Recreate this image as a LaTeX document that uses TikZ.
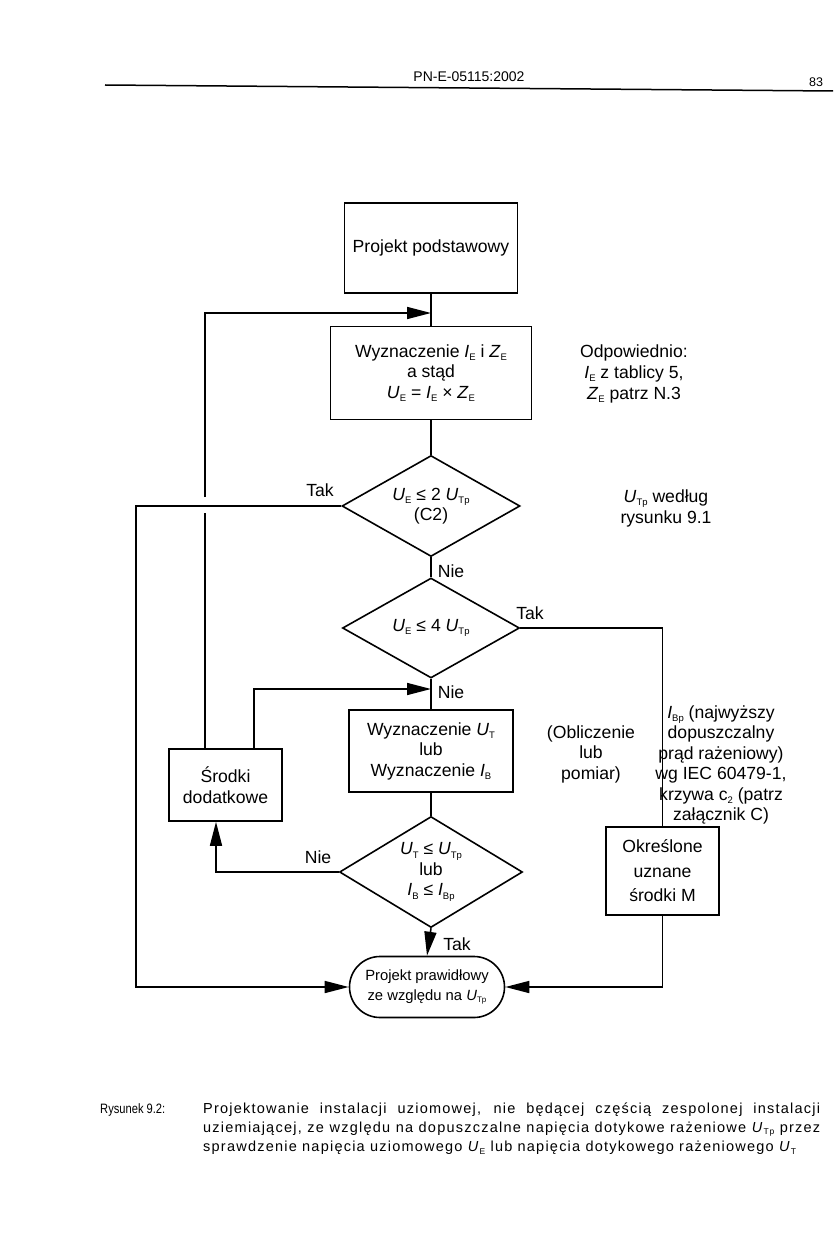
\documentclass[tikz,border=0pt]{standalone}
\usepackage{fontspec}
\setmainfont{Liberation Sans}
\newfontfamily\capfont[LetterSpace=8.5]{Liberation Sans}
\usetikzlibrary{shapes.geometric,shapes.misc,arrows.meta}
\newcommand\sbs[1]{\raisebox{-0.35ex}{\fontsize{9.5}{9.5}\selectfont #1}}
\newcommand\sbsm[1]{\raisebox{-0.35ex}{\fontsize{8}{8}\selectfont #1}}
\newcommand\sbsc[1]{\raisebox{-0.35ex}{\fontsize{8.5}{8.5}\selectfont #1}}
\newcommand\vU{\textit{U}}
\newcommand\vI{\textit{I}}
\newcommand\vZ{\textit{Z}}
\newcommand\fs{\fontsize{17.6}{20.5}\selectfont}
\begin{document}
\begin{tikzpicture}[x=1pt,y=-1pt,
  box/.style={draw,line width=1.6pt,inner sep=0pt,align=center,font=\fs},
  dia/.style={draw,diamond,line width=1.6pt,inner sep=0pt,align=center,font=\fs},
  lbl/.style={inner sep=0pt,align=center,font=\fs},
  con/.style={line width=1.6pt},
  arr/.style={line width=1.6pt,-{Triangle[length=24pt,width=12pt]}},
  captxt/.style={anchor=west,inner sep=0pt,font=\capfont\fontsize{14.5}{16}\selectfont},
]
\fill[white] (0,0) rectangle (835,1249);
\path[use as bounding box] (0,0) rectangle (835,1249);

% header
\node[inner sep=0pt,font=\fontsize{14}{15}\selectfont] (hdr) at (469,77) {PN-E-05115:2002};
\node[inner sep=0pt,font=\fontsize{12.5}{13}\selectfont] (pg) at (816,82) {83};
\draw[line width=1.5pt] (105,85) -- (833,91);

% main nodes
\node[box,minimum width=173pt,minimum height=90pt] (b1) at (431,248) {Projekt podstawowy};
\node[box,minimum width=201pt,minimum height=93pt] (b2) at (431,373) {Wyznaczenie \vI\sbs{E} i \vZ\sbs{E}\\ a stąd\\ \vU\sbs{E} = \vI\sbs{E} × \vZ\sbs{E}};
\node[dia,minimum width=178pt,minimum height=101pt,aspect=1.76] (d1) at (431,506) {\vU\sbs{E} ≤ 2 \vU\sbs{Tp}\\ (C2)};
\node[dia,minimum width=177pt,minimum height=100pt,aspect=1.77] (d2) at (431,628) {\vU\sbs{E} ≤ 4 \vU\sbs{Tp}};
\node[box,minimum width=164pt,minimum height=82pt] (b3) at (431,751) {Wyznaczenie \vU\sbs{T}\\ lub\\ Wyznaczenie \vI\sbs{B}};
\node[dia,minimum width=183pt,minimum height=111pt,aspect=1.65] (d3) at (431,872) {\vU\sbs{T} ≤ \vU\sbs{Tp}\\ lub\\ \vI\sbs{B} ≤ \vI\sbs{Bp}};
\node[draw,rounded rectangle,line width=1.6pt,minimum width=155pt,minimum height=61pt,inner sep=0pt,align=center,font=\fontsize{14.8}{20}\selectfont] (e) at (427,987) {Projekt prawidłowy\\ ze względu na \vU\sbsm{Tp}};
\node[box,minimum width=113pt,minimum height=72pt] (b4) at (225.5,785) {Środki\\ dodatkowe};
\node[box,minimum width=113pt,minimum height=88pt,font=\fontsize{17.6}{24.5}\selectfont] (b5) at (662.5,871) {Określone\\ uznane\\ środki M};

% notes
\node[lbl,font=\fontsize{17.6}{21}\selectfont] (n1) at (634,374) {Odpowiednio:\\ \vI\sbs{E} z tablicy 5,\\ \vZ\sbs{E} patrz N.3};
\node[lbl,font=\fontsize{17.6}{21}\selectfont] (n2) at (666,508) {\vU\sbs{Tp} według\\ rysunku 9.1};
\node[lbl] (n3) at (591,754) {(Obliczenie\\ lub\\ pomiar)};
\node[lbl] (n4) at (721,765) {\vI\sbs{Bp} (najwyższy\\ dopuszczalny\\ prąd rażeniowy)\\ wg IEC 60479-1,\\ krzywa c\sbs{2} (patrz\\ załącznik C)};

% labels
\node[lbl] (t1) at (320,490) {Tak};
\node[lbl] (nie1) at (451,571) {Nie};
\node[lbl] (t2) at (530,613) {Tak};
\node[lbl] (nie2) at (451,692) {Nie};
\node[lbl] (nie3) at (318,857) {Nie};
\node[lbl] (t3) at (457,944) {Tak};

% helper coordinates
\coordinate (j1) at (431,313);
\coordinate (g1) at (205,497);
\coordinate (g2) at (205,513);
\coordinate (c1) at (136,506);
\coordinate (j2) at (431,689);
\coordinate (k2) at (254,0);
\coordinate (k3) at (216,0);

% connectors
\draw[con] (b1.south) -- (b2.north);
\draw[con] (b4.north -| g2) -- (g2);
\draw[arr] (g1) |- (j1);
\draw[con] (b2.south) -- (d1.north);
\draw[arr] (d1.west) -- (c1) |- (e.west);
\draw[con] (d1.south) -- (d2.north);
\draw[con] (d2.east) -| (b5.north);
\draw[con] (d2.south) -- (b3.north);
\draw[arr] (b4.north -| k2) |- (j2);
\draw[con] (b3.south) -- (d3.north);
\draw[arr] (d3.west) -| (b4.south -| k3);
\draw[arr] (d3.south) -- (e.north);
\draw[arr] (b5.south) |- (e.east);

% caption
\node[anchor=west,inner sep=0pt,font=\fontsize{13.6}{16}\selectfont] (cap0) at (100,1110) {\scalebox{0.82}[1]{Rysunek 9.2:}};
\node[captxt] (cap1) at (203,1110) {\makebox[617pt][s]{Projektowanie instalacji uziomowej, nie będącej częścią zespolonej instalacji}};
\node[captxt] (cap2) at (203,1129) {\makebox[617pt][s]{uziemiającej, ze względu na dopuszczalne napięcia dotykowe rażeniowe \vU\sbsc{Tp} przez}};
\node[captxt] (cap3) at (203,1148) {sprawdzenie napięcia uziomowego \vU\sbsc{E} lub napięcia dotykowego rażeniowego \vU\sbsc{T}};
\end{tikzpicture}
\end{document}
